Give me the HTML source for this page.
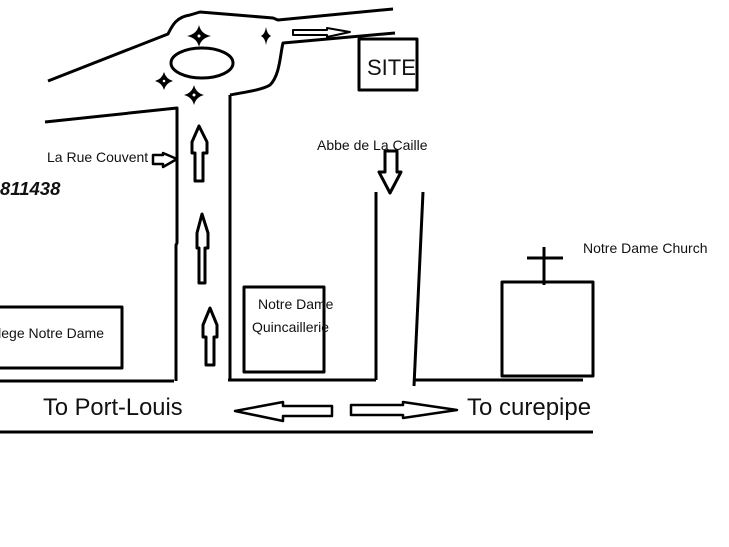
<!DOCTYPE html>
<html><head><meta charset="utf-8"><style>
html,body{margin:0;padding:0;background:#fff;}
body{width:729px;height:547px;overflow:hidden;position:relative;}
svg{position:absolute;left:0;top:0;}
text{font-family:"Liberation Sans",sans-serif;fill:#111;}
</style></head><body>
<svg width="729" height="547" viewBox="0 0 729 547" xmlns="http://www.w3.org/2000/svg">
<g fill="none" stroke="#000" stroke-width="3" stroke-linejoin="round" stroke-linecap="butt">
<path d="M48,81 L168,34 C172,26 176,17 190,15 L200,12 L273,18 L278,20 L393,9"/>
<path d="M395,33 L283,43 C280,55 280,75 270,85 C262,90 245,92 230,95"/>
<path d="M45,122 L177,108 L177,243 L176,245 L176,381"/>
<line x1="0" y1="381" x2="174" y2="381"/>
<line x1="230" y1="95" x2="230" y2="380"/>
<line x1="228" y1="380" x2="376" y2="380"/>
<line x1="376" y1="192" x2="376" y2="380"/>
<line x1="423" y1="192" x2="414" y2="386"/>
<line x1="413" y1="380" x2="583" y2="380"/>
<line x1="0" y1="432" x2="593" y2="432"/>
<ellipse cx="202" cy="63" rx="31" ry="15"/>
<rect x="359" y="39" width="58" height="51"/>
<rect x="244" y="287" width="80" height="85"/>
<rect x="-5" y="307" width="127" height="61"/>
<rect x="502" y="282" width="91" height="94"/>
<line x1="544" y1="247" x2="544" y2="285"/>
<line x1="527" y1="258" x2="563" y2="258"/>
<path d="M199,126 L192,142 L192,153 L195,153 L195,181 L203,181 L203,153 L207,153 L207,142 Z"/>
<path d="M202,214 L197,233 L197,248 L199,248 L199,283 L205,283 L205,248 L208,248 L208,233 Z"/>
<path d="M210,308 L203,325 L203,337 L206,337 L206,365 L214,365 L214,337 L217,337 L217,325 Z"/>
<path d="M385,151 L397,151 L397,172 L401,172 L390,193 L379,172 L385,172 Z"/>
<path d="M153,155 L163,155 L163,153 L177,159 L163,167 L163,164 L153,164 Z" stroke-width="2.5"/>
<path d="M332,406 L283,406 L283,402 L235,411 L283,421 L283,416 L332,416 Z" stroke-width="2.5"/>
<path d="M351,405 L403,405 L403,402 L457,410 L403,418 L403,415 L351,415 Z" stroke-width="2.5"/>
<path d="M293,30 L327,30 L327,28 L350,32 L327,37 L327,35 L293,35 Z" stroke-width="2"/>
</g>
<g fill="#000">
<path d="M199,25 Q201,34 211,36 Q201,38 199,47 Q197,38 187,36 Q197,34 199,25 Z"/>
<path d="M266,27 Q267,34 271,36 Q267,38 266,45 Q265,38 261,36 Q265,34 266,27 Z"/>
<path d="M164,72 Q166,79 173,81 Q166,83 164,90 Q162,83 155,81 Q162,79 164,72 Z"/>
<path d="M194,85 Q196,93 204,95 Q196,97 194,105 Q192,97 184,95 Q192,93 194,85 Z"/>
</g>
<g fill="#fff">
<circle cx="199" cy="36" r="1.5"/><circle cx="164" cy="81" r="1.3"/><circle cx="194" cy="95" r="1.5"/>
</g>
<text x="367" y="75" font-size="22">SITE</text>
<text x="47" y="162" font-size="14">La Rue Couvent</text>
<text x="0" y="195" font-size="18.5" font-weight="bold" font-style="italic">811438</text>
<text x="317" y="150" font-size="14">Abbe de La Caille</text>
<text x="583" y="253" font-size="14">Notre Dame Church</text>
<text x="258" y="309" font-size="14">Notre Dame</text>
<text x="252" y="332" font-size="14">Quincaillerie</text>
<text x="104" y="338" font-size="14" text-anchor="end">College Notre Dame</text>
<text x="43" y="415" font-size="23.7">To Port-Louis</text>
<text x="467" y="415" font-size="24">To curepipe</text>
</svg>
</body></html>
